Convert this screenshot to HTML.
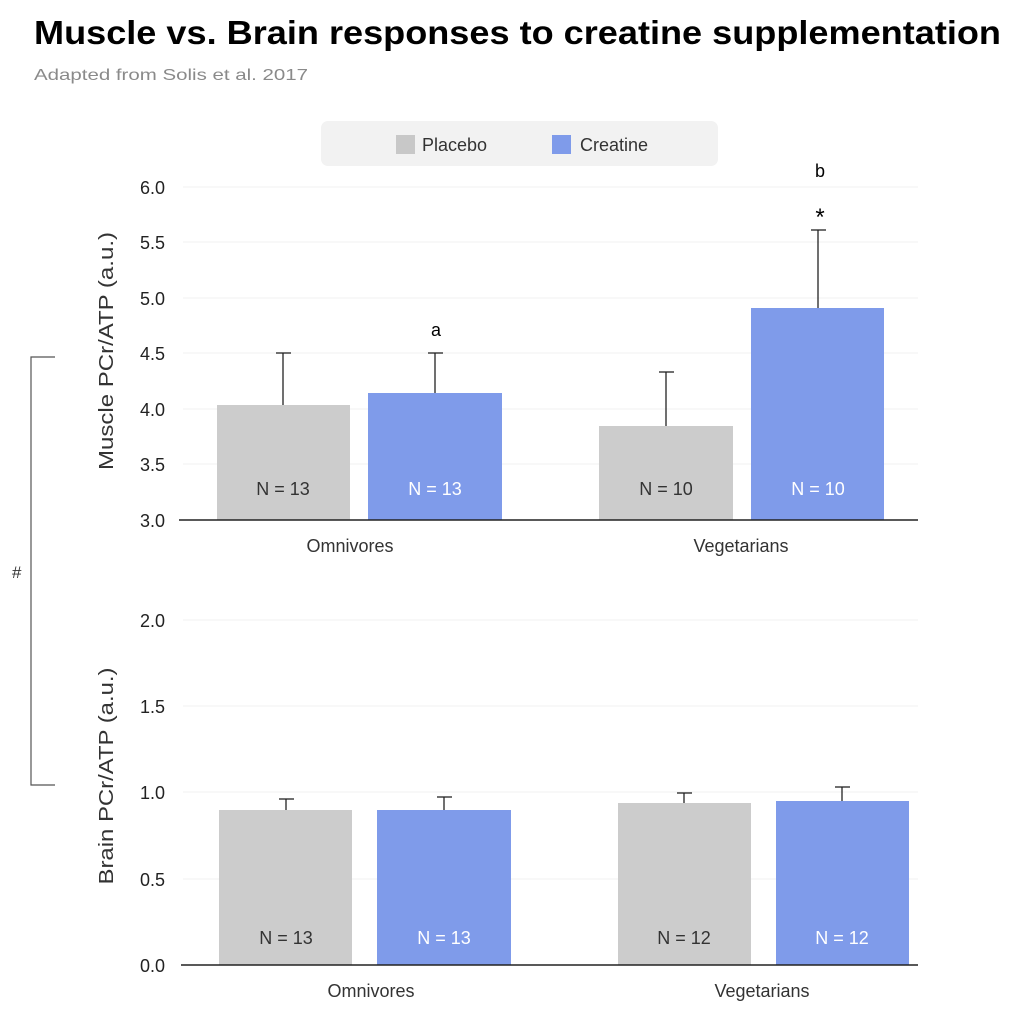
<!DOCTYPE html>
<html><head><meta charset="utf-8"><style>
body{margin:0;background:#fff;}
svg{display:block;font-family:"Liberation Sans",sans-serif;}
</style></head><body>
<svg width="1024" height="1018" viewBox="0 0 1024 1018">
<text x="34" y="44" font-size="33" font-weight="bold" fill="#000" textLength="967" lengthAdjust="spacingAndGlyphs">Muscle vs. Brain responses to creatine supplementation</text>
<text x="34" y="80" font-size="16" fill="#8a8a8a" textLength="274" lengthAdjust="spacingAndGlyphs">Adapted from Solis et al. 2017</text>
<rect x="321" y="121" width="397" height="45" rx="7" fill="#f2f2f2"/>
<rect x="396" y="135" width="19" height="19" fill="#c8c8c8"/>
<text x="422" y="151" font-size="18" fill="#333">Placebo</text>
<rect x="552" y="135" width="19" height="19" fill="#7f9bea"/>
<text x="580" y="151" font-size="18" fill="#333">Creatine</text>
<g stroke="#f0f0f0" stroke-width="1">
<line x1="183" x2="918" y1="187" y2="187"/><line x1="183" x2="918" y1="242" y2="242"/><line x1="183" x2="918" y1="298" y2="298"/><line x1="183" x2="918" y1="353" y2="353"/><line x1="183" x2="918" y1="409" y2="409"/><line x1="183" x2="918" y1="464" y2="464"/>
<line x1="183" x2="918" y1="620" y2="620"/><line x1="183" x2="918" y1="706" y2="706"/><line x1="183" x2="918" y1="792" y2="792"/><line x1="183" x2="918" y1="879" y2="879"/>
</g>
<g font-size="18" fill="#222" text-anchor="end">
<text x="165" y="194">6.0</text><text x="165" y="249">5.5</text><text x="165" y="305">5.0</text><text x="165" y="360">4.5</text><text x="165" y="416">4.0</text><text x="165" y="471">3.5</text><text x="165" y="527">3.0</text>
<text x="165" y="627">2.0</text><text x="165" y="713">1.5</text><text x="165" y="799">1.0</text><text x="165" y="886">0.5</text><text x="165" y="972">0.0</text>
</g>
<text transform="translate(113,351) rotate(-90)" font-size="20" fill="#333" text-anchor="middle" textLength="238" lengthAdjust="spacingAndGlyphs">Muscle PCr/ATP (a.u.)</text>
<text transform="translate(113,776) rotate(-90)" font-size="20" fill="#333" text-anchor="middle" textLength="217" lengthAdjust="spacingAndGlyphs">Brain PCr/ATP (a.u.)</text>
<rect x="217" y="405" width="133" height="115" fill="#cccccc"/>
<rect x="368" y="393" width="134" height="127" fill="#7f9bea"/>
<rect x="599" y="426" width="134" height="94" fill="#cccccc"/>
<rect x="751" y="308" width="133" height="212" fill="#7f9bea"/>
<g stroke="#222" stroke-width="1.3">
<line x1="283" x2="283" y1="353" y2="405"/><line x1="276" x2="291" y1="353" y2="353"/>
<line x1="435" x2="435" y1="353" y2="393"/><line x1="428" x2="443" y1="353" y2="353"/>
<line x1="666" x2="666" y1="372" y2="426"/><line x1="659" x2="674" y1="372" y2="372"/>
<line x1="818" x2="818" y1="230" y2="308"/><line x1="811" x2="826" y1="230" y2="230"/>
<line x1="179" x2="918" y1="520" y2="520" stroke-width="1.5"/>
</g>
<text x="436" y="336" font-size="18" text-anchor="middle">a</text>
<text x="820" y="177" font-size="18" text-anchor="middle">b</text>
<text x="820" y="225" font-size="24" text-anchor="middle">*</text>
<g font-size="18" text-anchor="middle">
<text x="283" y="495" fill="#333">N = 13</text><text x="435" y="495" fill="#fff">N = 13</text>
<text x="666" y="495" fill="#333">N = 10</text><text x="818" y="495" fill="#fff">N = 10</text>
<text x="350" y="552" fill="#333">Omnivores</text><text x="741" y="552" fill="#333">Vegetarians</text>
</g>
<rect x="219" y="810" width="133" height="155" fill="#cccccc"/>
<rect x="377" y="810" width="134" height="155" fill="#7f9bea"/>
<rect x="618" y="803" width="133" height="162" fill="#cccccc"/>
<rect x="776" y="801" width="133" height="164" fill="#7f9bea"/>
<g stroke="#222" stroke-width="1.3">
<line x1="286" x2="286" y1="799" y2="810"/><line x1="279" x2="294" y1="799" y2="799"/>
<line x1="444" x2="444" y1="797" y2="810"/><line x1="437" x2="452" y1="797" y2="797"/>
<line x1="684" x2="684" y1="793" y2="803"/><line x1="677" x2="692" y1="793" y2="793"/>
<line x1="842" x2="842" y1="787" y2="801"/><line x1="835" x2="850" y1="787" y2="787"/>
<line x1="181" x2="918" y1="965" y2="965" stroke-width="1.5"/>
</g>
<g font-size="18" text-anchor="middle">
<text x="286" y="944" fill="#333">N = 13</text><text x="444" y="944" fill="#fff">N = 13</text>
<text x="684" y="944" fill="#333">N = 12</text><text x="842" y="944" fill="#fff">N = 12</text>
<text x="371" y="997" fill="#333">Omnivores</text><text x="762" y="997" fill="#333">Vegetarians</text>
</g>
<path d="M55 357 H31 V785 H55" fill="none" stroke="#555" stroke-width="1.2"/>
<text x="12" y="578" font-size="17" fill="#333">#</text>
</svg>
</body></html>
